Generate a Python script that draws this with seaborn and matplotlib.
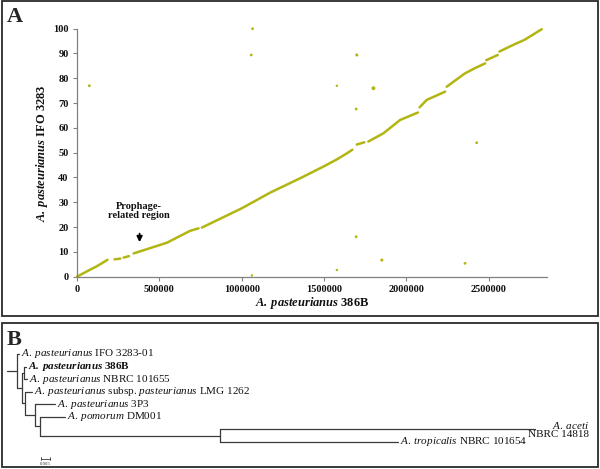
import numpy as np
import pandas as pd
import matplotlib
matplotlib.use("Agg")
import matplotlib.pyplot as plt
import seaborn as sns
from matplotlib.patches import Rectangle

sns.set_theme(style="white")
plt.rcParams['font.family'] = ['Liberation Serif', 'DejaVu Serif']
plt.rcParams['mathtext.fontset'] = 'custom'
plt.rcParams['mathtext.rm'] = 'Liberation Serif'
plt.rcParams['mathtext.it'] = 'Liberation Serif:italic'
plt.rcParams['mathtext.bf'] = 'Liberation Serif:bold'
plt.rcParams['mathtext.bfit'] = 'Liberation Serif:italic:bold'

# ---------------- Panel A data (dot plot) ----------------
line_seg = [1, 1, 1, 1,
            2, 2,
            3, 3,
            4, 4, 4, 4,
            5, 5, 5, 5, 5, 5, 5, 5,
            6, 6,
            7, 7, 7, 7,
            8, 8, 8,
            9, 9, 9, 9, 9,
            10, 10,
            11, 11, 11, 11]
line_x = [0, 50e3, 120e3, 185e3,
          228e3, 263e3,
          283e3, 315e3,
          344e3, 546e3, 687e3, 738e3,
          758e3, 1001e3, 1173e3, 1355e3, 1496e3, 1578e3, 1640e3, 1672e3,
          1699e3, 1745e3,
          1769e3, 1860e3, 1962e3, 2070e3,
          2080e3, 2124e3, 2235e3,
          2245e3, 2300e3, 2356e3, 2420e3, 2478e3,
          2485e3, 2555e3,
          2565e3, 2640e3, 2720e3, 2822e3]
line_y = [0, 1.8, 4.2, 6.8,
          7.0, 7.3,
          7.7, 8.3,
          9.4, 13.7, 18.5, 19.5,
          19.8, 27.6, 33.9, 39.7, 44.4, 47.3, 49.8, 51.2,
          53.3, 54.2,
          54.5, 57.8, 63.2, 66.2,
          68.3, 71.3, 74.6,
          76.6, 79.3, 82.0, 84.2, 86.0,
          87.3, 89.4,
          90.8, 93.2, 95.6, 99.8]

out_x = [74.6e3, 1066e3, 1058e3, 1699e3, 1578e3, 1800e3, 1695e3, 2427e3,
         1695e3, 1851e3, 1578e3, 2356e3, 1062e3]
out_y = [77, 100, 89.4, 89.4, 77, 76, 67.6, 54, 16.1, 6.7, 2.7, 5.4, 0.5]
out_size = [4, 4, 4, 5, 3, 8, 4, 4, 4, 5, 3, 4, 3]

x_ticks = [0, 500000, 1000000, 1500000, 2000000, 2500000]
x_tick_labels = ["0", "500000", "1000000", "1500000", "2000000", "2500000"]
y_ticks = [0, 10, 20, 30, 40, 50, 60, 70, 80, 90, 100]
y_tick_labels = [str(v) for v in y_ticks]

# ---------------- Panel B data (tree) ----------------
leaf_ids = ["ifo", "p386b", "nbrc101655", "lmg", "p3p3", "dm001", "aceti", "tropicalis"]
leaf_labels = [r"$\mathit{A.\:pasteurianus}$ IFO 3283-01",
               r"$\mathbfit{A.\:pasteurianus}$ 386B",
               r"$\mathit{A.\:pasteurianus}$ NBRC 101655",
               r"$\mathit{A.\:pasteurianus}$ subsp. $\mathit{pasteurianus}$ LMG 1262",
               r"$\mathit{A.\:pasteurianus}$ 3P3",
               r"$\mathit{A.\:pomorum}$ DM001",
               None,
               r"$\mathit{A.\:tropicalis}$ NBRC 101654"]
leaf_bold = [False, True, False, False, False, False, False, False]
tree_child = ["n1", "ifo", "n2", "n3", "p386b", "nbrc101655", "n4", "lmg", "n5",
              "p3p3", "n6", "dm001", "n7", "aceti", "tropicalis"]
tree_parent = ["root", "n1", "n1", "n2", "n3", "n3", "n2", "n4", "n4",
               "n5", "n5", "n6", "n6", "n7", "n7"]
tree_depth = [0.00556, 0.00694, 0.00861, 0.00944, 0.01056, 0.01111, 0.01000, 0.01389,
              0.01556, 0.02667, 0.01806, 0.03222, 0.11833, 0.29333, 0.21722]
scale_len = 0.005

C = "#b2b512"
GRAY = "#808080"

fig = plt.figure(figsize=(6.0, 4.69), dpi=100)
W, H = 600.0, 469.0

# panel frames
for (x0, y0, x1, y1) in [(1.5, 1.5, 597.5, 315.5), (1.5, 322.5, 597.5, 467)]:
    fig.patches.append(Rectangle((x0 / W, 1 - y1 / H), (x1 - x0) / W, (y1 - y0) / H,
                                 transform=fig.transFigure, fill=False,
                                 edgecolor="#2a2a2a", linewidth=1.3))

fig.text(7 / W, 1 - 22 / H, "A", fontsize=16, fontweight="bold", va="baseline")
fig.text(7 / W, 1 - 345 / H, "B", fontsize=16, fontweight="bold", va="baseline")

# ---------------- Panel A ----------------
ax = fig.add_axes([77 / W, 1 - 276.7 / H, (546.7 - 77) / W, (276.7 - 28.7) / H])
df_line = pd.DataFrame({"seg": line_seg, "x": line_x, "y": line_y})
sns.lineplot(data=df_line, x="x", y="y", units="seg", estimator=None, sort=False,
             color=C, linewidth=1.8, ax=ax)
for ln in ax.lines:
    ln.set_clip_on(False)
df_out = pd.DataFrame({"x": out_x, "y": out_y, "s": out_size})
sns.scatterplot(data=df_out, x="x", y="y", size="s", sizes=(3, 8), color=C,
                linewidth=0, legend=False, ax=ax, clip_on=False)
ax.set_xlim(0, 2.852e6)
ax.set_ylim(0, 100)
ax.set_xticks(x_ticks)
ax.set_xticklabels(x_tick_labels, fontweight="bold")
ax.set_yticks(y_ticks)
ax.set_yticklabels(y_tick_labels, fontweight="bold")
ax.tick_params(axis="both", which="both", direction="out", length=3, width=0.8,
               color=GRAY, labelsize=7.5, pad=3, left=True, bottom=True,
               labelcolor="#111111")
sns.despine(ax=ax)
for sp in ["left", "bottom"]:
    ax.spines[sp].set_color(GRAY)
    ax.spines[sp].set_linewidth(0.9)
ax.set_xlabel(r"$\mathbfit{A.\:pasteurianus}$ 386B", fontsize=9, fontweight="bold",
              color="#111111")
ax.set_ylabel(r"$\mathbfit{A.\:pasteurianus}$ IFO 3283", fontsize=9, fontweight="bold",
              color="#111111")
ax.xaxis.set_label_coords(0.5, -0.075)
ax.yaxis.set_label_coords(-0.058, 0.5)
ax.annotate("", xy=(380e3, 12.8), xytext=(380e3, 18.5),
            arrowprops=dict(arrowstyle="-|>", color="black", lw=1.3,
                            mutation_scale=8))
ax.text(375e3, 26.5, "Prophage-\nrelated region", ha="center", va="center",
        fontsize=7.5, fontweight="bold", linespacing=1.05, color="#111111")

# ---------------- Panel B ----------------
axb = fig.add_axes([0, 0, 1, 149 / H])
axb.set_axis_off()
k = 0.005 / 9.0
axb.set_xlim(-7 * k, (600 - 7) * k)
row = 12.57
axb.set_ylim((469 - 354) / row, (320 - 354) / row)

depth = {"root": 0.0}
for c, d in zip(tree_child, tree_depth):
    depth[c] = d
ypos = {lid: i for i, lid in enumerate(leaf_ids)}
children = {}
for c, p in zip(tree_child, tree_parent):
    children.setdefault(p, []).append(c)


def get_y(n):
    if n in ypos:
        return ypos[n]
    ys = [get_y(c) for c in children[n]]
    ypos[n] = (min(ys) + max(ys)) / 2.0
    return ypos[n]


get_y("root")
TC = "#3a3a3a"
axb.plot([0.0, depth["n1"]], [ypos["n1"], ypos["n1"]], color=TC, lw=0.9)
for p, chs in children.items():
    if p == "root":
        continue
    ys = [ypos[c] for c in chs]
    axb.plot([depth[p], depth[p]], [min(ys), max(ys)], color=TC, lw=0.9)
    for c in chs:
        axb.plot([depth[p], depth[c]], [ypos[c], ypos[c]], color=TC, lw=0.9)

for lid, lab, b in zip(leaf_ids, leaf_labels, leaf_bold):
    if lab is None:
        continue
    axb.annotate(lab, xy=(depth[lid], ypos[lid]), xytext=(1.2, 0),
                 textcoords="offset points", ha="left", va="center",
                 fontsize=8, fontweight="bold" if b else "normal", color="#111111")

axb.text((589 - 7) * k, ypos["aceti"] - 0.33, r"$\mathit{A.\:aceti}$", ha="right",
         va="center", fontsize=8, color="#111111")
axb.text((589 - 7) * k, ypos["aceti"] + 0.42, "NBRC 14818", ha="right",
         va="center", fontsize=8, color="#111111")

# scale bar
sx0 = (41 - 7) * k
sy = (458.5 - 354) / row
axb.plot([sx0, sx0 + scale_len], [sy, sy], color=TC, lw=0.6)
axb.plot([sx0, sx0], [sy - 0.1, sy + 0.1], color=TC, lw=0.6)
axb.plot([sx0 + scale_len, sx0 + scale_len], [sy - 0.1, sy + 0.1], color=TC, lw=0.6)
axb.text(sx0 + scale_len / 2, sy + 0.25, "0.005", ha="center", va="top",
         fontsize=3.5, color="#333333")

fig.savefig("out.png", dpi=100)
